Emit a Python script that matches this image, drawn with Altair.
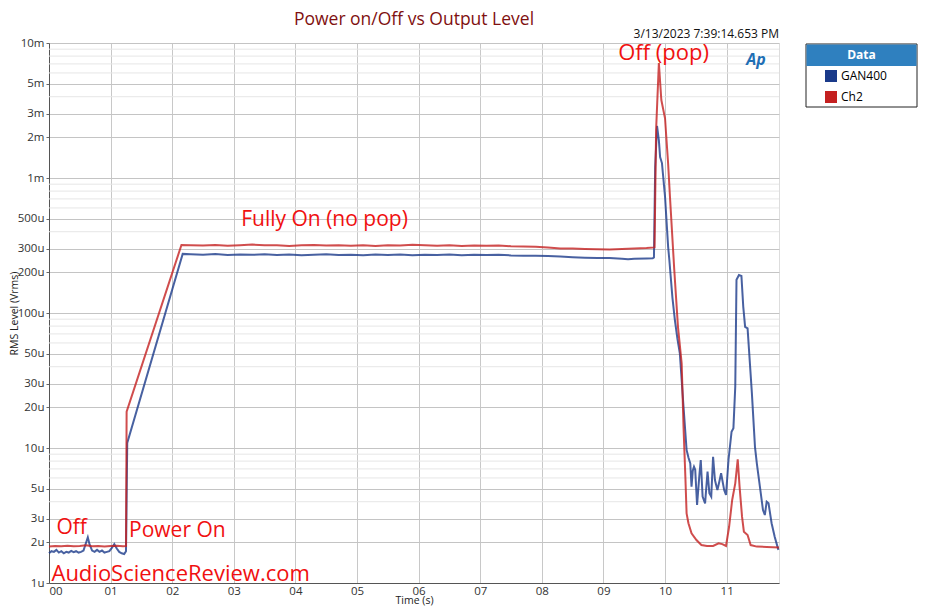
import altair as alt
import pandas as pd

FONT = "Open Sans"

# ---------------- data (time in s, level in microvolts) -------------
blue_t = [0.00, 0.04, 0.08, 0.12, 0.16, 0.20, 0.24, 0.28, 0.32, 0.36, 0.40, 0.44, 0.48, 0.52, 0.56,
          0.60, 0.63, 0.66, 0.70, 0.74, 0.78, 0.82, 0.86, 0.90, 0.94, 0.98, 1.02, 1.06, 1.10, 1.14,
          1.18, 1.22, 1.25, 1.27, 2.17,
          2.3, 2.5, 2.7, 2.9, 3.1, 3.3, 3.5, 3.7, 3.9, 4.1, 4.3, 4.5, 4.7, 4.9, 5.1, 5.3, 5.5, 5.7,
          5.9, 6.1, 6.3, 6.5, 6.7, 6.9, 7.1, 7.3, 7.5, 7.7, 7.9, 8.1, 8.3, 8.5, 8.7, 8.9, 9.1, 9.3,
          9.4, 9.5, 9.7, 9.8, 9.82,
          9.84, 9.87, 9.90, 9.92, 9.95, 10.00, 10.05, 10.07, 10.12, 10.16, 10.20, 10.24, 10.30,
          10.35, 10.38, 10.41, 10.43, 10.45, 10.47, 10.49, 10.52, 10.56, 10.58, 10.61, 10.65, 10.69,
          10.72, 10.75, 10.78, 10.81, 10.85, 10.88, 10.91, 10.96, 10.99, 11.03, 11.08, 11.11, 11.14,
          11.16, 11.20, 11.24, 11.27, 11.30, 11.34, 11.41, 11.46, 11.49, 11.54, 11.59, 11.62, 11.65,
          11.68, 11.73, 11.78, 11.84]
blue_uv = [1.66, 1.72, 1.70, 1.76, 1.68, 1.72, 1.66, 1.70, 1.68, 1.73, 1.69, 1.72, 1.68, 1.70, 1.74,
           1.98, 2.18, 1.92, 1.74, 1.70, 1.76, 1.70, 1.74, 1.68, 1.70, 1.72, 1.82, 1.94, 1.80, 1.70,
           1.66, 1.64, 1.72, 10.9, 274,
           272, 270, 273, 269, 271, 270, 272, 269, 271, 268, 270, 272, 269, 270, 268, 271, 269, 271,
           268, 270, 269, 271, 268, 270, 269, 270, 267, 266, 265, 264, 262, 259, 257, 256, 255, 252,
           250, 252, 253, 254, 258,
           1200, 2430, 1900, 1430, 1290, 727, 310, 247, 130, 88.7, 65, 50.3, 20.2,
           9.67, 8.5, 7.7, 5.17, 6.8, 7.27, 6.9, 3.78, 6.5, 8.15, 4.36, 3.89, 6.68,
           4.62, 4.36, 8.62, 5.79, 4.88, 5.6, 6.5, 4.88, 4.49, 8.15, 13.2, 14.0, 28.5,
           176, 191, 188, 111, 79, 77, 25.4, 10.2, 7.7, 5.17, 3.47, 3.19, 4.0,
           3.89, 2.77, 2.2, 1.76]

red_t = [0.00, 0.10, 0.20, 0.30, 0.40, 0.50, 0.60, 0.70, 0.80, 0.90, 1.00, 1.10, 1.20, 1.25, 1.26,
         2.15,
         2.3, 2.5, 2.7, 2.9, 3.1, 3.3, 3.5, 3.7, 3.9, 4.1, 4.3, 4.5, 4.7, 4.9, 5.1, 5.3, 5.5, 5.7,
         5.9, 6.1, 6.3, 6.5, 6.7, 6.9, 7.1, 7.3, 7.5, 7.7, 7.9, 8.1, 8.3, 8.5, 8.7, 8.9, 9.1, 9.3,
         9.5, 9.7, 9.83,
         9.855, 9.90, 9.94, 10.00, 10.05, 10.08, 10.15, 10.21, 10.27, 10.30, 10.33, 10.35, 10.38,
         10.43, 10.51, 10.59, 10.68, 10.78, 10.87, 10.93, 10.99, 11.04, 11.09, 11.14, 11.18, 11.21,
         11.25, 11.28, 11.34, 11.39, 11.49, 11.65, 11.85]
red_uv = [1.86, 1.88, 1.87, 1.89, 1.87, 1.88, 1.90, 1.87, 1.88, 1.86, 1.88, 1.89, 1.87, 1.88, 18.6,
          319,
          318, 316, 319, 315, 318, 321, 317, 318, 314, 317, 319, 316, 318, 315, 317, 314, 318, 316,
          320, 318, 315, 317, 314, 316, 315, 316, 312, 311, 309, 306, 301, 300, 298, 297, 296, 298,
          300, 303, 306,
          2270, 7100, 3780, 2770, 1280, 727, 208, 79, 42.4, 14.4, 6.13, 3.28, 2.77,
          2.33, 2.08, 1.91, 1.88, 1.88, 1.97, 1.94, 1.88, 2.61, 4.12, 5.47, 8.25, 5.17,
          3.1, 2.4, 2.27, 1.91, 1.86, 1.85, 1.83]

series_names = ["GAN400", "Ch2"]
line_colors = ["#1a3a8a", "#c42020"]

y_major_uv = [1, 2, 3, 5, 10, 20, 30, 50, 100, 200, 300, 500, 1000, 2000, 3000, 5000, 10000]
y_minor_uv = [4, 6, 7, 8, 9, 40, 60, 70, 80, 90, 400, 600, 700, 800, 900, 4000, 6000, 7000, 8000, 9000]
x_ticks = list(range(12))

note_text = ["Off", "Power On", "AudioScienceReview.com", "Fully On (no pop)", "Off (pop)"]
note_t = [0.12, 1.30, 0.04, 3.12, 9.24]
note_uv = [2.55, 2.43, 1.17, 490, 8430]
note_size = [21, 21, 22, 21, 22]

title_text = "Power on/Off vs Output Level"
stamp_text = "3/13/2023 7:39:14.653 PM"

# ---------------- tables ----------------
df = pd.concat([
    pd.DataFrame({"t": blue_t, "v": [u * 1e-6 for u in blue_uv], "series": series_names[0]}),
    pd.DataFrame({"t": red_t, "v": [u * 1e-6 for u in red_uv], "series": series_names[1]}),
], ignore_index=True)
minor_df = pd.DataFrame({"v": [u * 1e-6 for u in y_minor_uv]})
notes_df = pd.DataFrame({"text": note_text, "t": note_t, "v": [u * 1e-6 for u in note_uv],
                         "fs": note_size})

W, H = 730, 540
xscale = alt.Scale(domain=[0, 11.85], nice=False, zero=False)
yscale = alt.Scale(type="log", domain=[1e-6, 1e-2], nice=False)

label_y = ("datum.value >= 0.00099 ? format(datum.value * 1000, 'd') + 'm' "
           ": format(datum.value * 1000000, 'd') + 'u'")
label_x = "datum.value < 10 ? '0' + format(datum.value, 'd') : format(datum.value, 'd')"

x_enc = alt.X("t:Q", scale=xscale, axis=alt.Axis(
    values=x_ticks, labelExpr=label_x, title="Time (s)", ticks=False, labelPadding=2,
    labelFontSize=11.5, labelColor="#333", labelFont=FONT, titleFont=FONT, titleFontSize=10.5,
    titleFontWeight="normal", titleColor="#222", titlePadding=-1, gridColor="#c8c8c8",
    domainColor="#555"))
y_enc = alt.Y("v:Q", scale=yscale, axis=alt.Axis(
    values=[u * 1e-6 for u in y_major_uv], labelExpr=label_y, title="RMS Level (Vrms)",
    tickSize=3, tickColor="#666", labelPadding=2, labelFontSize=11.5, labelColor="#333",
    labelFont=FONT, titleFont=FONT, titleFontSize=10.5, titleFontWeight="normal",
    titleColor="#222", titleX=-35, titleBaseline="middle", gridColor="#c4c4c4",
    domainColor="#555"))

minor = alt.Chart(minor_df).mark_rule(color="#e6e6e6", strokeWidth=1).encode(
    y=alt.Y("v:Q", scale=yscale))

# stroke scale listed in reverse order so its (hidden) legend is not merged with the fill legend
lines = alt.Chart(df).mark_line(strokeWidth=2, opacity=0.8).encode(
    x=x_enc, y=y_enc,
    stroke=alt.Stroke("series:N", scale=alt.Scale(domain=series_names[::-1],
                                                  range=line_colors[::-1]),
                      legend=None),
    order=alt.Order("t:Q"))

one = alt.Data(values=[{"a": 1}])
box = alt.Chart(one).mark_rect(fillOpacity=0, stroke="#222", strokeWidth=1).encode(
    x=alt.value(757), x2=alt.value(868), y=alt.value(1), y2=alt.value(64))
header = alt.Chart(one).mark_rect(fill="#2f80bf").encode(
    x=alt.value(757.5), x2=alt.value(867.5), y=alt.value(1.5), y2=alt.value(23))
header_txt = alt.Chart(one).mark_text(text="Data", color="white", fontWeight="bold",
                                      fontSize=12, font=FONT, align="center",
                                      baseline="middle").encode(
    x=alt.value(812.5), y=alt.value(12))

legend_pts = alt.Chart(df).mark_point(shape="square", filled=True, size=0, opacity=0).encode(
    x=alt.X("t:Q", scale=xscale), y=alt.Y("v:Q", scale=yscale),
    fill=alt.Fill("series:N", scale=alt.Scale(domain=series_names, range=line_colors),
                  legend=alt.Legend(orient="none", legendX=776, legendY=27, title=None,
                                    padding=0, rowPadding=9, labelFontSize=12, labelFont=FONT,
                                    labelColor="#000", symbolType="square", symbolSize=144,
                                    symbolStrokeWidth=0, labelOffset=4, symbolOpacity=1,
                                    zindex=2)))

notes = alt.Chart(notes_df).mark_text(align="left", baseline="middle", color="#f01010",
                                      font=FONT).encode(
    x=alt.X("t:Q", scale=xscale), y=alt.Y("v:Q", scale=yscale),
    text="text:N", size=alt.Size("fs:Q", scale=None))

title = alt.Chart(one).mark_text(text=title_text, color="#7f1010", fontSize=17.5, font=FONT,
                                 align="center", baseline="middle").encode(
    x=alt.value(W / 2), y=alt.value(-23))
stamp = alt.Chart(one).mark_text(text=stamp_text, color="#111", fontSize=12, font=FONT,
                                 align="right", baseline="middle").encode(
    x=alt.value(730), y=alt.value(-9))
logo = alt.Chart(one).mark_text(text="Ap", color="#1f6fb5", fontSize=16, font=FONT,
                                fontStyle="italic", fontWeight="bold", align="center",
                                baseline="middle").encode(
    x=alt.value(707), y=alt.value(17))

chart = alt.layer(minor, lines, box, header, header_txt, legend_pts, notes, title, stamp,
                  logo).properties(
    width=W, height=H,
    autosize=alt.AutoSizeParams(type="none"),
    padding={"left": 41, "top": 35, "right": 139, "bottom": 25},
).configure_view(stroke="#888", strokeWidth=1).configure(background="white")

chart.save("out.html", embed_options={"renderer": "svg", "actions": False})
